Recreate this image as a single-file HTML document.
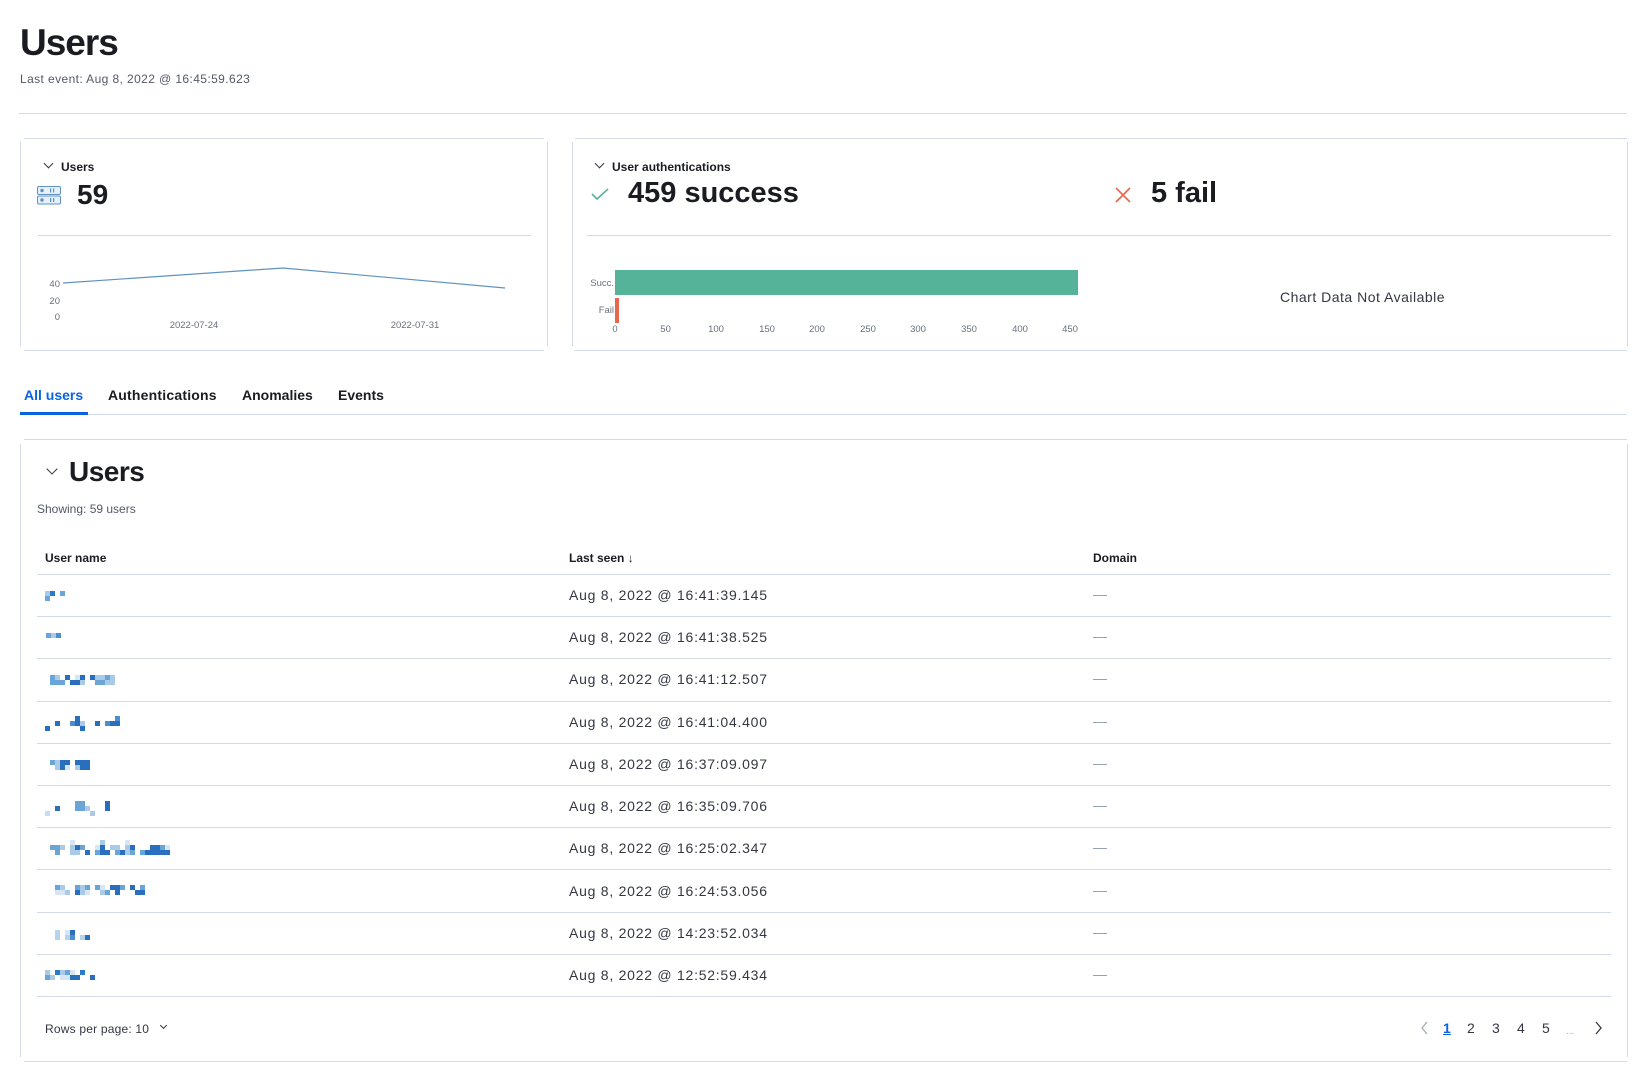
<!DOCTYPE html>
<html><head><meta charset="utf-8">
<style>
*{margin:0;padding:0;box-sizing:border-box}
body{width:1644px;height:1081px;background:#fff;position:relative;overflow:hidden;font-family:"Liberation Sans",Arial,sans-serif;color:#1a1c21}
.a{position:absolute;white-space:nowrap}
.hl{position:absolute;height:1px;background:#d3dae6}
.vl{position:absolute;width:1px;background:#d3dae6}
.b{font-weight:bold}
.chev{position:absolute;width:7px;height:7px;border-right:1.5px solid #343741;border-bottom:1.5px solid #343741;transform:rotate(45deg)}
.date{position:absolute;left:569px;font-size:14px;color:#343741;line-height:16px;letter-spacing:0.75px}
.dash{position:absolute;left:1093px;width:14px;height:1px;background:#98a2b3}
.pg{position:absolute;top:1020px;font-size:14px;color:#343741}
</style></head><body>
<div class="a b" style="left:20px;top:22px;font-size:37px;letter-spacing:-1px">Users</div>
<div class="a" style="left:20px;top:72px;font-size:12px;color:#535966;letter-spacing:0.4px">Last event: Aug 8, 2022 @ 16:45:59.623</div>
<div class="hl" style="left:19px;top:113px;width:1608px"></div>

<!-- left panel -->
<div class="hl" style="left:24px;top:138px;width:520px"></div>
<div class="hl" style="left:24px;top:350px;width:520px"></div>
<div class="vl" style="left:20px;top:142px;height:204px"></div>
<div class="vl" style="left:547px;top:142px;height:204px"></div>
<div class="chev" style="left:45px;top:160px"></div>
<div class="a b" style="left:61px;top:160px;font-size:12px">Users</div>
<svg class="a" style="left:37px;top:186px" width="24" height="19" viewBox="0 0 24 19"><rect x="0.5" y="0.5" width="23" height="8" rx="1.5" fill="#e6f0fa" stroke="#6092c0"/><rect x="0.5" y="10" width="23" height="8" rx="1.5" fill="#e6f0fa" stroke="#6092c0"/><circle cx="5" cy="4.5" r="1.7" fill="#6092c0"/><circle cx="5" cy="14" r="1.7" fill="#6092c0"/><rect x="13" y="2.5" width="1.2" height="4" fill="#6092c0"/><rect x="16" y="2.5" width="1.2" height="4" fill="#6092c0"/><rect x="13" y="12" width="1.2" height="4" fill="#6092c0"/><rect x="16" y="12" width="1.2" height="4" fill="#6092c0"/></svg>
<div class="a b" style="left:77px;top:179px;font-size:28px">59</div>
<div class="hl" style="left:38px;top:235px;width:493px"></div>
<svg class="a" style="left:0;top:260px" width="560" height="80"><polyline points="63,23 283,8 505,28" fill="none" stroke="#6092c0" stroke-width="1.2"/>
<g font-family="Liberation Sans" font-size="9.5" fill="#69707d"><text x="60" y="27" text-anchor="end">40</text><text x="60" y="44" text-anchor="end">20</text><text x="60" y="60" text-anchor="end">0</text><text x="194" y="68" text-anchor="middle">2022-07-24</text><text x="415" y="68" text-anchor="middle">2022-07-31</text></g></svg>

<!-- right panel -->
<div class="hl" style="left:575px;top:138px;width:1052px"></div>
<div class="hl" style="left:575px;top:350px;width:1052px"></div>
<div class="vl" style="left:572px;top:142px;height:204px"></div>
<div class="vl" style="left:1627px;top:142px;height:204px"></div>
<div class="chev" style="left:596px;top:160px"></div>
<div class="a b" style="left:612px;top:160px;font-size:12px">User authentications</div>
<svg class="a" style="left:591px;top:188px" width="18" height="13"><polyline points="1,6 6,11 17,1" fill="none" stroke="#54b399" stroke-width="1.6"/></svg>
<div class="a b" style="left:628px;top:177px;font-size:29px">459 success</div>
<svg class="a" style="left:1115px;top:187px" width="16" height="16"><path d="M1,1 L15,15 M15,1 L1,15" stroke="#e7664c" stroke-width="1.6"/></svg>
<div class="a b" style="left:1151px;top:177px;font-size:29px">5 fail</div>
<div class="hl" style="left:587px;top:235px;width:1024px"></div>
<svg class="a" style="left:580px;top:260px" width="520" height="80">
<rect x="35" y="10" width="463" height="25" fill="#54b399"/><rect x="35" y="38" width="4" height="25" fill="#e7664c"/>
<g font-family="Liberation Sans" font-size="9.5" fill="#69707d"><text x="34" y="26" text-anchor="end">Succ.</text><text x="34" y="53" text-anchor="end">Fail</text>
<text x="35" y="72" text-anchor="middle">0</text><text x="85.6" y="72" text-anchor="middle">50</text><text x="136" y="72" text-anchor="middle">100</text><text x="187" y="72" text-anchor="middle">150</text><text x="237" y="72" text-anchor="middle">200</text><text x="288" y="72" text-anchor="middle">250</text><text x="338" y="72" text-anchor="middle">300</text><text x="389" y="72" text-anchor="middle">350</text><text x="440" y="72" text-anchor="middle">400</text><text x="490" y="72" text-anchor="middle">450</text></g></svg>
<div class="a" style="left:1280px;top:289px;font-size:14px;color:#343741;letter-spacing:0.5px">Chart Data Not Available</div>

<!-- tabs -->
<div class="a b" style="left:24px;top:387px;font-size:14px;color:#0b64dd">All users</div>
<div class="a b" style="left:108px;top:387px;font-size:14px;letter-spacing:0.2px">Authentications</div>
<div class="a b" style="left:242px;top:387px;font-size:14px">Anomalies</div>
<div class="a b" style="left:338px;top:387px;font-size:14px">Events</div>
<div class="hl" style="left:20px;top:414px;width:1607px"></div>
<div class="a" style="left:20px;top:412px;width:68px;height:3px;background:#0b64dd"></div>

<!-- table panel -->
<div class="hl" style="left:24px;top:439px;width:1603px"></div>
<div class="hl" style="left:24px;top:1061px;width:1603px"></div>
<div class="vl" style="left:20px;top:444px;height:613px"></div>
<div class="vl" style="left:1627px;top:444px;height:613px"></div>
<div class="chev" style="left:48px;top:465px;width:8px;height:8px"></div>
<div class="a b" style="left:69px;top:456px;font-size:28px;letter-spacing:-0.5px">Users</div>
<div class="a" style="left:37px;top:502px;font-size:12px;color:#535966">Showing: 59 users</div>
<div class="a b" style="left:45px;top:551px;font-size:12px">User name</div>
<div class="a b" style="left:569px;top:551px;font-size:12px">Last seen ↓</div>
<div class="a b" style="left:1093px;top:551px;font-size:12px">Domain</div>
<div class="hl" style="left:37px;top:574px;width:1574px"></div>
<div class="hl" style="left:37px;top:616px;width:1574px"></div>
<div class="hl" style="left:37px;top:658px;width:1574px"></div>
<div class="hl" style="left:37px;top:701px;width:1574px"></div>
<div class="hl" style="left:37px;top:743px;width:1574px"></div>
<div class="hl" style="left:37px;top:785px;width:1574px"></div>
<div class="hl" style="left:37px;top:827px;width:1574px"></div>
<div class="hl" style="left:37px;top:869px;width:1574px"></div>
<div class="hl" style="left:37px;top:912px;width:1574px"></div>
<div class="hl" style="left:37px;top:954px;width:1574px"></div>
<div class="hl" style="left:37px;top:996px;width:1574px"></div>

<div class="date" style="top:587px">Aug 8, 2022 @ 16:41:39.145</div>
<div class="date" style="top:629px">Aug 8, 2022 @ 16:41:38.525</div>
<div class="date" style="top:671px">Aug 8, 2022 @ 16:41:12.507</div>
<div class="date" style="top:714px">Aug 8, 2022 @ 16:41:04.400</div>
<div class="date" style="top:756px">Aug 8, 2022 @ 16:37:09.097</div>
<div class="date" style="top:798px">Aug 8, 2022 @ 16:35:09.706</div>
<div class="date" style="top:840px">Aug 8, 2022 @ 16:25:02.347</div>
<div class="date" style="top:883px">Aug 8, 2022 @ 16:24:53.056</div>
<div class="date" style="top:925px">Aug 8, 2022 @ 14:23:52.034</div>
<div class="date" style="top:967px">Aug 8, 2022 @ 12:52:59.434</div>
<div class="dash" style="top:595px"></div><div class="dash" style="top:637px"></div><div class="dash" style="top:679px"></div><div class="dash" style="top:722px"></div><div class="dash" style="top:764px"></div><div class="dash" style="top:806px"></div><div class="dash" style="top:848px"></div><div class="dash" style="top:891px"></div><div class="dash" style="top:933px"></div><div class="dash" style="top:975px"></div>

<!-- pixelated names -->
<svg class="a" style="left:45px;top:591px" width="130" height="15"><g fill="#a9cbe8"><rect x="0" y="0" width="5" height="5"/></g><g fill="#2a7cc7"><rect x="5" y="0" width="5" height="5"/></g><g fill="#6aa5d8"><rect x="15" y="0" width="5" height="5"/><rect x="0" y="5" width="5" height="5"/></g></svg>
<svg class="a" style="left:45px;top:633px" width="130" height="15"><rect x="1" y="0" width="5" height="5" fill="#6aa5d8"/><rect x="6" y="0" width="5" height="5" fill="#a9cbe8"/><rect x="11" y="0" width="5" height="5" fill="#4a90cf"/></svg>
<svg class="a" style="left:45px;top:675px" width="130" height="15"><g fill="#6aa5d8"><rect x="5" y="0" width="5" height="5"/><rect x="60" y="0" width="5" height="5"/><rect x="5" y="5" width="15" height="5"/><rect x="50" y="5" width="10" height="5"/></g><g fill="#a9cbe8"><rect x="10" y="0" width="5" height="5"/><rect x="50" y="0" width="10" height="5"/><rect x="65" y="0" width="5" height="5"/><rect x="35" y="5" width="5" height="5"/><rect x="60" y="5" width="10" height="5"/></g><g fill="#2a6fbd"><rect x="20" y="0" width="5" height="5"/><rect x="35" y="0" width="5" height="5"/><rect x="45" y="0" width="5" height="5"/><rect x="25" y="5" width="10" height="5"/></g><rect x="30" y="0" width="5" height="5" fill="#d6e6f4"/></svg>
<svg class="a" style="left:45px;top:716px" width="130" height="15"><g fill="#2a6fbd"><rect x="30" y="0" width="5" height="5"/><rect x="10" y="5" width="5" height="5"/><rect x="30" y="5" width="5" height="5"/><rect x="50" y="5" width="5" height="5"/><rect x="65" y="5" width="10" height="5"/><rect x="0" y="10" width="5" height="5"/><rect x="35" y="10" width="5" height="5"/></g><g fill="#4a90cf"><rect x="70" y="0" width="5" height="5"/><rect x="25" y="5" width="5" height="5"/><rect x="60" y="5" width="5" height="5"/></g><rect x="35" y="5" width="5" height="5" fill="#a9cbe8"/></svg>
<svg class="a" style="left:45px;top:760px" width="130" height="15"><g fill="#2a6fbd"><rect x="15" y="0" width="10" height="5"/><rect x="30" y="0" width="15" height="5"/><rect x="15" y="5" width="5" height="5"/><rect x="35" y="5" width="10" height="5"/></g><rect x="5" y="0" width="5" height="5" fill="#6aa5d8"/><g fill="#a9cbe8"><rect x="10" y="0" width="5" height="5"/><rect x="10" y="5" width="5" height="5"/><rect x="30" y="5" width="5" height="5"/></g><rect x="20" y="5" width="5" height="5" fill="#d6e6f4"/></svg>
<svg class="a" style="left:45px;top:801px" width="130" height="15"><g fill="#6aa5d8"><rect x="30" y="0" width="10" height="10"/></g><g fill="#2a6fbd"><rect x="60" y="0" width="5" height="10"/><rect x="10" y="5" width="5" height="5"/></g><g fill="#a9cbe8"><rect x="40" y="5" width="5" height="5"/><rect x="45" y="10" width="5" height="5"/></g><rect x="0" y="10" width="5" height="5" fill="#c6ddf0"/></svg>
<svg class="a" style="left:45px;top:840px" width="130" height="15"><g fill="#d6e6f4"><rect x="25" y="0" width="5" height="5"/><rect x="80" y="0" width="5" height="5"/><rect x="50" y="5" width="5" height="5"/><rect x="120" y="5" width="5" height="5"/></g><rect x="55" y="0" width="5" height="5" fill="#a9cbe8"/><g fill="#6aa5d8"><rect x="5" y="5" width="10" height="5"/><rect x="35" y="5" width="5" height="5"/><rect x="115" y="5" width="5" height="5"/><rect x="10" y="10" width="5" height="5"/><rect x="50" y="10" width="5" height="5"/><rect x="70" y="10" width="5" height="5"/><rect x="85" y="10" width="5" height="5"/><rect x="95" y="10" width="5" height="5"/></g><g fill="#a9cbe8"><rect x="15" y="5" width="5" height="5"/><rect x="25" y="5" width="5" height="5"/><rect x="65" y="5" width="10" height="5"/><rect x="80" y="5" width="5" height="5"/><rect x="25" y="10" width="10" height="5"/><rect x="80" y="10" width="5" height="5"/></g><g fill="#2a6fbd"><rect x="30" y="5" width="5" height="5"/><rect x="55" y="5" width="5" height="5"/><rect x="85" y="5" width="5" height="5"/><rect x="105" y="5" width="10" height="5"/><rect x="40" y="10" width="5" height="5"/><rect x="55" y="10" width="10" height="5"/><rect x="75" y="10" width="5" height="5"/><rect x="100" y="10" width="25" height="5"/></g></svg>
<svg class="a" style="left:45px;top:885px" width="130" height="15"><g fill="#6aa5d8"><rect x="10" y="0" width="5" height="5"/><rect x="30" y="0" width="5" height="5"/><rect x="40" y="0" width="5" height="5"/><rect x="50" y="0" width="5" height="5"/><rect x="75" y="0" width="5" height="5"/><rect x="95" y="0" width="5" height="5"/><rect x="60" y="5" width="5" height="5"/></g><g fill="#a9cbe8"><rect x="15" y="0" width="5" height="5"/><rect x="35" y="0" width="5" height="5"/><rect x="20" y="5" width="5" height="5"/><rect x="35" y="5" width="5" height="5"/><rect x="55" y="5" width="5" height="5"/></g><g fill="#2a6fbd"><rect x="65" y="0" width="10" height="5"/><rect x="85" y="0" width="5" height="5"/><rect x="30" y="5" width="5" height="5"/><rect x="70" y="5" width="5" height="5"/><rect x="90" y="5" width="10" height="5"/></g><g fill="#d6e6f4"><rect x="55" y="0" width="5" height="5"/><rect x="10" y="5" width="10" height="5"/><rect x="40" y="5" width="5" height="5"/></g></svg>
<svg class="a" style="left:45px;top:930px" width="130" height="15"><g fill="#b6d3ec"><rect x="10" y="0" width="5" height="10"/><rect x="20" y="5" width="5" height="5"/><rect x="35" y="5" width="5" height="5"/></g><rect x="20" y="0" width="5" height="5" fill="#d6e6f4"/><g fill="#2a6fbd"><rect x="25" y="0" width="5" height="5"/><rect x="40" y="5" width="5" height="5"/></g><rect x="25" y="5" width="5" height="5" fill="#4a90cf"/></svg>
<svg class="a" style="left:45px;top:970px" width="130" height="15"><g fill="#a9cbe8"><rect x="0" y="0" width="5" height="5"/><rect x="15" y="0" width="5" height="5"/><rect x="5" y="5" width="5" height="5"/></g><g fill="#2a7cc7"><rect x="10" y="0" width="5" height="5"/><rect x="35" y="0" width="5" height="5"/></g><rect x="20" y="0" width="5" height="5" fill="#6aa5d8"/><rect x="0" y="5" width="5" height="5" fill="#6aa5d8"/><g fill="#d6e6f4"><rect x="25" y="0" width="5" height="5"/><rect x="15" y="5" width="10" height="5"/></g><g fill="#2a6fbd"><rect x="25" y="5" width="10" height="5"/><rect x="45" y="5" width="5" height="5"/></g></svg>

<!-- footer -->
<div class="a" style="left:45px;top:1022px;font-size:12px;color:#343741;letter-spacing:0.2px">Rows per page: 10</div>
<div class="chev" style="left:161px;top:1023px;width:5px;height:5px;border-width:1px"></div>
<svg class="a" style="left:1420px;top:1021px" width="10" height="14"><polyline points="7,1 2,7 7,13" fill="none" stroke="#a2abba" stroke-width="1.3"/></svg>
<div class="pg" style="left:1443px;color:#0b64dd;text-decoration:underline;font-weight:bold">1</div>
<div class="pg" style="left:1467px">2</div>
<div class="pg" style="left:1492px">3</div>
<div class="pg" style="left:1517px">4</div>
<div class="pg" style="left:1542px">5</div>
<div class="pg" style="left:1566px;color:#a2abba;font-size:10px;top:1026px">...</div>
<svg class="a" style="left:1594px;top:1021px" width="10" height="14"><polyline points="2,1 7,7 2,13" fill="none" stroke="#343741" stroke-width="1.3"/></svg>
</body></html>
